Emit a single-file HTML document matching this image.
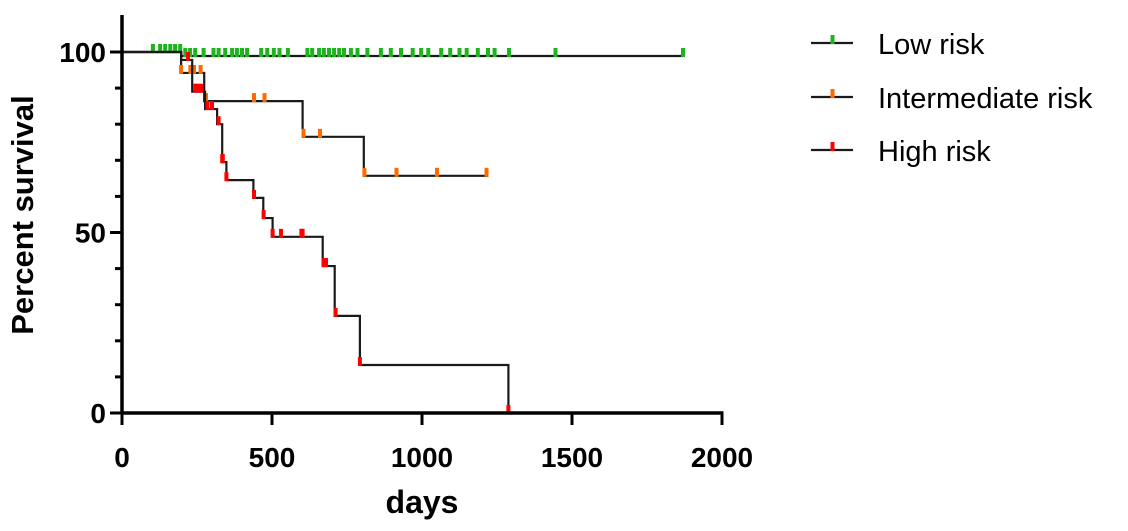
<!DOCTYPE html>
<html><head><meta charset="utf-8"><style>
html,body{margin:0;padding:0;background:#fff;}
svg{display:block;font-family:"Liberation Sans",Arial,sans-serif;}
</style></head><body>
<svg id="chart" width="1128" height="531" viewBox="0 0 1128 531">
<g id="plot"></g>
<g id="axes"></g>
<g id="legend"></g>
</svg>
<script>
// ---- data ----
const xTicks = [0, 500, 1000, 1500, 2000];
const yTicks = [0, 50, 100];
const seriesNames = ["Low risk", "Intermediate risk", "High risk"];
const seriesColors = ["#1fb41f", "#ff6a00", "#ff0000"];
const lowSteps = [[0,100],[197,98.9]];
const lowEnd = 1870;
const lowCensor = [103,127,144,161,177,194,211,227,244,272,305,322,344,367,383,400,417,464,484,506,525,553,618,634,657,673,690,707,724,740,763,785,818,863,896,930,969,997,1021,1064,1094,1125,1149,1186,1220,1242,1290,1445,1870];
const midSteps = [[0,100],[197,94.2],[274,86.4],[602,76.5],[806,65.7]];
const midEnd = 1221;
const midCensor = [197,228,240,262,280,440,475,605,660,808,915,1050,1215];
const highSteps = [[0,100],[197,97.8],[234,89],[277,84.2],[317,80],[334,69.5],[348,64.5],[438,59.6],[471,54],[502,48.8],[669,40.7],[709,26.9],[793,13.3],[1288,0]];
const highEnd = 1288;
const highCensor = [220,245,255,265,285,300,322,334,336,348,440,472,502,530,598,602,672,680,712,793,1288];

// ---- scales ----
const X0=122, X1=722, Y0=413, Y100=52;
const sx = d => X0 + d*(X1-X0)/2000;
const sy = p => Y0 - p*(Y0-Y100)/100;
const NS="http://www.w3.org/2000/svg";
function mk(tag, attrs, parent){const e=document.createElementNS(NS,tag);for(const k in attrs)e.setAttribute(k,attrs[k]);parent.appendChild(e);return e;}
function survAt(steps,d){let p=100;for(const s of steps){if(s[0]<=d)p=s[1];}return p;}

const plot=document.getElementById('plot');
function drawSeries(steps,end,censor,color,name){
  let d=`M${sx(0)},${sy(100)}`;
  for(let i=1;i<steps.length;i++){d+=` H${sx(steps[i][0])} V${sy(steps[i][1])}`;}
  d+=` H${sx(end)}`;
  const path=mk('path',{d:d,fill:'none',stroke:'#1a1a1a','stroke-width':2.2},plot);
  
  
  censor.forEach(c=>{
    const p=survAt(steps,c);
    const r=mk('rect',{x:sx(c)-2,y:sy(p)-8,width:4,height:9,fill:color},plot);
    
    
  });
}
drawSeries(lowSteps,lowEnd,lowCensor,seriesColors[0],'low-risk');
drawSeries(midSteps,midEnd,midCensor,seriesColors[1],'intermediate-risk');
drawSeries(highSteps,highEnd,highCensor,seriesColors[2],'high-risk');

// ---- axes ----
const ax=document.getElementById('axes');
const yl=mk('line',{x1:X0,y1:15,x2:X0,y2:Y0+1.5,stroke:'#000','stroke-width':3.5},ax);

const xl=mk('line',{x1:X0-1.5,y1:Y0,x2:X1+1.5,y2:Y0,stroke:'#000','stroke-width':3.5},ax);

for(let p=0;p<=100;p+=10){
  const major=yTicks.includes(p);
  const t=mk('line',{x1:X0-(major?12:7),y1:sy(p),x2:X0,y2:sy(p),stroke:'#000','stroke-width':3},ax);
  
}
yTicks.forEach(p=>{
  const t=mk('text',{x:X0-16,y:sy(p)+10,'text-anchor':'end','font-size':28,'font-weight':'bold',fill:'#000'},ax);
  t.textContent=p;
  
});
xTicks.forEach(d=>{
  const t=mk('line',{x1:sx(d),y1:Y0,x2:sx(d),y2:Y0+12,stroke:'#000','stroke-width':3},ax);
  
  const l=mk('text',{x:sx(d),y:467,'text-anchor':'middle','font-size':28,'font-weight':'bold',fill:'#000'},ax);
  l.textContent=d;
  
});
const xt=mk('text',{x:422,y:513,'text-anchor':'middle','font-size':32,'font-weight':'bold',fill:'#000'},ax);
xt.textContent='days';

const yt=mk('text',{x:0,y:0,'text-anchor':'middle','font-size':31,'font-weight':'bold',fill:'#000',transform:'translate(33,215) rotate(-90)'},ax);
yt.textContent='Percent survival';


// ---- legend ----
const lg=document.getElementById('legend');
const legY=[43,97,150];
seriesNames.forEach((n,i)=>{
  const g=mk('g',{},lg);
  
  mk('line',{x1:811,y1:legY[i],x2:853,y2:legY[i],stroke:'#1a1a1a','stroke-width':2.2},g);
  mk('rect',{x:830.5,y:legY[i]-8,width:4,height:9,fill:seriesColors[i]},g);
  const t=mk('text',{x:878,y:legY[i]+11,'font-size':29,fill:'#000'},g);
  t.textContent=n;
});
</script>
</body></html>
